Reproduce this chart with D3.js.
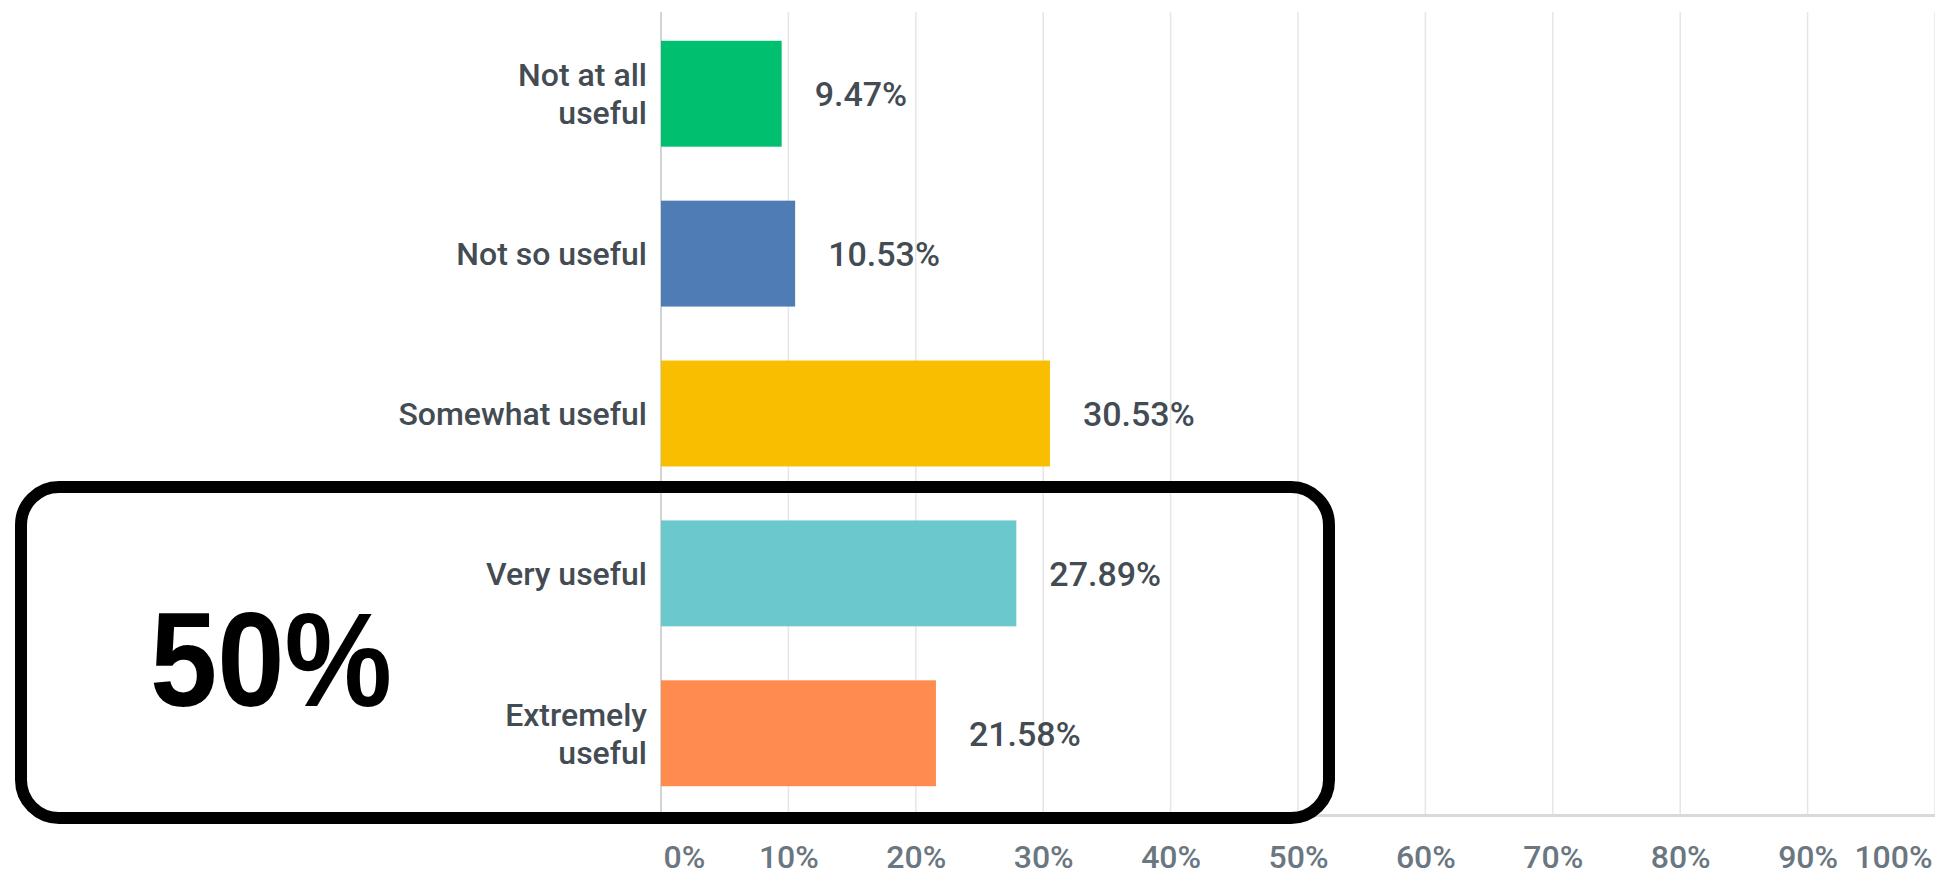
<!DOCTYPE html>
<html>
<head>
<meta charset="utf-8">
<script src="https://cdn.jsdelivr.net/npm/d3@7"></script>
<style>
  body { margin: 0; background: #fff; }
  svg { display: block; }
</style>
</head>
<body>
<div class="chart"></div>
<script>
// data
const categories = ['Not at all useful', 'Not so useful', 'Somewhat useful', 'Very useful', 'Extremely useful'];
const categoryLines = [['Not at all', 'useful'], ['Not so useful'], ['Somewhat useful'], ['Very useful'], ['Extremely', 'useful']];
const values = [9.47, 10.53, 30.53, 27.89, 21.58];
const barColors = ['#00bf6f', '#507cb6', '#f9be00', '#6bc8cd', '#ff8b4f'];
const tickValues = [0, 10, 20, 30, 40, 50, 60, 70, 80, 90, 100];
const calloutText = '50%';

const width = 1935,
      height = 875;

const svg = d3.select('.chart')
  .append('svg')
  .attr('width', width)
  .attr('height', height);

// scales
const x = d3.scaleLinear()
  .domain([0, 100])
  .range([661, 1935]);

const y = d3.scaleBand()
  .domain(categories)
  .range([12, 815])
  .paddingInner(0.3375)
  .paddingOuter(0.18);

// grid lines
svg.append('g')
  .attr('class', 'grid')
  .selectAll('line')
  .data(tickValues.slice(1))
  .enter()
  .append('line')
  .attr('x1', d => x(d))
  .attr('x2', d => x(d))
  .attr('y1', 12)
  .attr('y2', 815)
  .attr('stroke', '#e6e6e6')
  .attr('stroke-width', 1.5);

// vertical axis line
svg.append('line')
  .attr('x1', x(0))
  .attr('x2', x(0))
  .attr('y1', 12)
  .attr('y2', 815)
  .attr('stroke', '#d4d4d4')
  .attr('stroke-width', 2);

// bottom axis
const xAxis = svg.append('g')
  .attr('transform', 'translate(0, 815)')
  .call(
    d3.axisBottom(x)
      .tickValues(tickValues)
      .tickSize(0)
      .tickFormat(d => d + '%')
  );
xAxis.select('.domain')
  .attr('stroke', '#d9d9d9')
  .attr('stroke-width', 3);
xAxis.selectAll('text')
  .attr('dy', null)
  .attr('y', 53)
  .attr('fill', '#6b7780')
  .style('font-family', 'Roboto, sans-serif')
  .style('font-weight', 500)
  .style('font-size', '32px')
  .attr('text-anchor', (d, i) => i === 0 ? 'start' : (i === tickValues.length - 1 ? 'end' : 'middle'))
  .attr('x', (d, i) => i === 0 ? 2 : (i === tickValues.length - 1 ? -3 : 0));

// bars
svg.append('g')
  .selectAll('rect')
  .data(values)
  .enter()
  .append('rect')
  .attr('x', x(0))
  .attr('y', (d, i) => y(categories[i]))
  .attr('width', d => x(d) - x(0))
  .attr('height', y.bandwidth())
  .attr('fill', (d, i) => barColors[i]);

// value labels
svg.append('g')
  .selectAll('text')
  .data(values)
  .enter()
  .append('text')
  .attr('x', d => x(d) + 33)
  .attr('y', (d, i) => y(categories[i]) + y.bandwidth() / 2)
  .attr('dy', '0.36em')
  .attr('fill', '#434b53')
  .style('font-family', 'Roboto, sans-serif')
  .style('font-weight', 500)
  .style('font-size', '34px')
  .text(d => d.toFixed(2) + '%');

// category labels
const catLabels = svg.append('g')
  .selectAll('text')
  .data(categoryLines)
  .enter()
  .append('text')
  .attr('text-anchor', 'end')
  .attr('fill', '#434b53')
  .style('font-family', 'Roboto, sans-serif')
  .style('font-weight', 500)
  .style('font-size', '32px');

catLabels.each(function (lines, i) {
  const cy = y(categories[i]) + y.bandwidth() / 2;
  const lh = 38;
  d3.select(this).selectAll('tspan')
    .data(lines)
    .enter()
    .append('tspan')
    .attr('x', 647)
    .attr('y', (d, j) => cy + (j - (lines.length - 1) / 2) * lh)
    .attr('dy', '0.36em')
    .text(d => d);
});

// callout box
svg.append('rect')
  .attr('x', 21)
  .attr('y', 487)
  .attr('width', 1308)
  .attr('height', 331)
  .attr('rx', 38)
  .attr('fill', 'none')
  .attr('stroke', '#000')
  .attr('stroke-width', 12);

svg.append('text')
  .attr('x', 271)
  .attr('y', 706)
  .attr('text-anchor', 'middle')
  .attr('textLength', 242)
  .attr('lengthAdjust', 'spacingAndGlyphs')
  .style('font-family', '"Liberation Sans", Arial, sans-serif')
  .style('font-weight', 'bold')
  .style('font-size', '133px')
  .text(calloutText);
</script>
</body>
</html>
